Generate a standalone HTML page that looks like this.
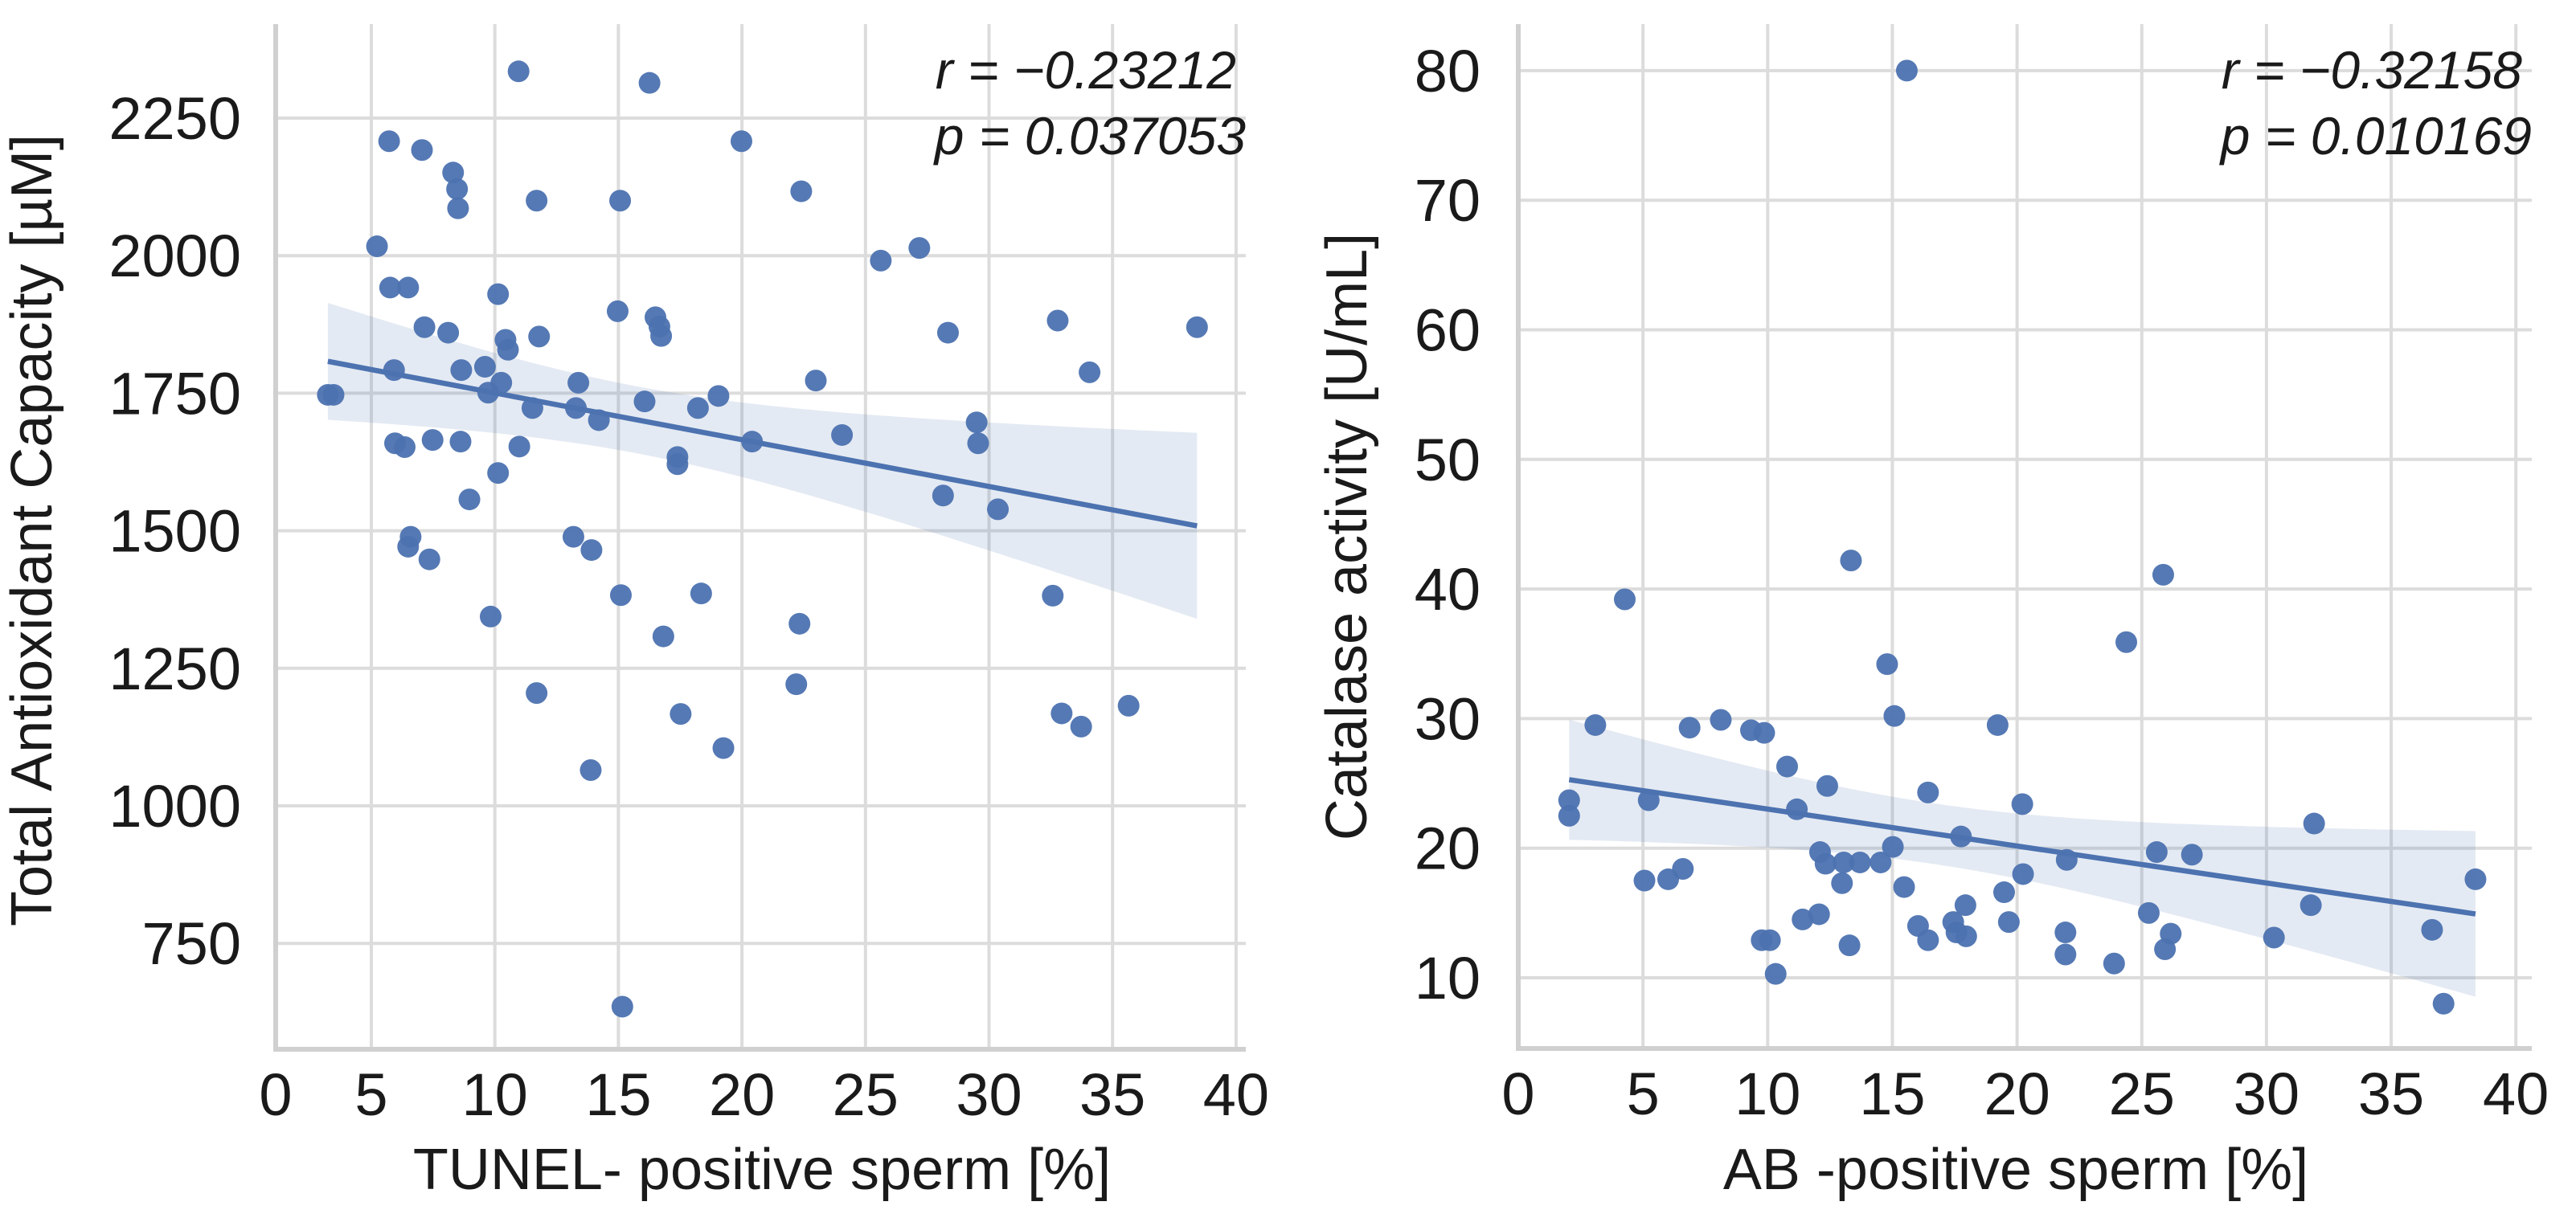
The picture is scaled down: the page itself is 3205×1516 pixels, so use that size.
<!DOCTYPE html>
<html><head><meta charset="utf-8">
<style>
html,body{margin:0;padding:0;background:#fff;}
svg{display:block;font-family:"Liberation Sans",Arial,sans-serif;}
</style></head>
<body>
<svg id="fig" width="3205" height="1516" viewBox="0 0 3205 1516" xmlns="http://www.w3.org/2000/svg">
<g id="left"></g>
<g id="right"></g>
</svg>
<script>
// ---- Left chart data ----
const leftX = [10.96,16.26,5.72,7.05,19.98,8.31,8.47,8.51,11.69,15.07,22.40,5.23,25.62,27.18,5.76,6.49,10.13,14.97,7.15,8.11,10.43,10.53,11.79,16.50,16.66,16.73,28.34,32.78,38.42,34.07,5.92,8.64,9.60,9.73,10.26,3.24,3.47,11.52,13.38,13.28,14.21,16.06,18.22,19.05,22.99,24.05,20.41,17.39,17.39,29.50,29.56,28.14,30.36,5.96,6.35,7.48,8.61,10.99,10.13,8.97,6.59,6.49,7.35,13.18,13.91,9.83,15.10,18.35,16.82,22.33,32.58,11.69,22.20,17.52,19.25,32.94,33.73,35.65,13.88,15.16];
const leftY = [2335,2314,2208,2192,2208,2151,2121,2086,2100,2100,2117,2017,1991,2014,1942,1942,1930,1899,1870,1860,1847,1829,1853,1888,1871,1854,1860,1882,1870,1788,1792,1792,1798,1751,1769,1747,1747,1723,1769,1723,1701,1735,1723,1745,1773,1674,1662,1634,1621,1697,1659,1564,1539,1659,1652,1665,1662,1653,1605,1557,1489,1471,1448,1489,1465,1344,1383,1386,1308,1331,1382,1205,1221,1167,1105,1168,1144,1182,1065,635];
const leftXTicks = [0,5,10,15,20,25,30,35,40];
const leftYTicks = [750,1000,1250,1500,1750,2000,2250];
// ---- Right chart data ----
const rightX = [15.58,13.34,25.86,4.27,24.38,14.79,15.08,3.09,6.87,8.12,9.33,9.86,19.22,10.78,12.39,16.43,2.04,2.04,5.23,11.17,20.21,31.91,12.10,12.32,13.05,13.70,14.53,15.02,12.98,17.75,21.99,25.60,27.01,38.38,5.06,6.01,6.60,15.47,19.48,20.24,17.93,31.78,25.28,11.40,12.06,16.03,17.44,17.57,17.96,19.67,21.94,26.16,36.64,16.43,9.76,10.09,13.28,30.30,21.94,25.93,23.89,10.32,37.10];
const rightY = [80.0,42.2,41.1,39.2,35.9,34.2,30.2,29.5,29.3,29.9,29.1,28.9,29.5,26.3,24.8,24.3,23.7,22.5,23.7,23.0,23.4,21.9,19.7,18.8,18.9,18.9,18.9,20.1,17.3,20.9,19.1,19.7,19.5,17.6,17.5,17.6,18.4,17.0,16.6,18.0,15.6,15.6,15.0,14.5,14.9,14.0,14.3,13.5,13.2,14.3,13.5,13.4,13.7,12.9,12.9,12.9,12.5,13.1,11.8,12.2,11.1,10.3,8.0];
const rightXTicks = [0,5,10,15,20,25,30,35,40];
const rightYTicks = [10,20,30,40,50,60,70,80];

const NS = "http://www.w3.org/2000/svg";
function mk(parent, tag, attrs, text){
  const e = document.createElementNS(NS, tag);
  for (const k in attrs) e.setAttribute(k, attrs[k]);
  if (text !== undefined) e.textContent = text;
  parent.appendChild(e);
  return e;
}

function regress(xs, ys){
  const n = xs.length;
  let mx=0,my=0; for(let i=0;i<n;i++){mx+=xs[i];my+=ys[i];} mx/=n; my/=n;
  let sxx=0,sxy=0; for(let i=0;i<n;i++){sxx+=(xs[i]-mx)**2; sxy+=(xs[i]-mx)*(ys[i]-my);}
  const b=sxy/sxx, a=my-b*mx;
  let sse=0; for(let i=0;i<n;i++){sse+=(ys[i]-a-b*xs[i])**2;}
  const s=Math.sqrt(sse/(n-2));
  return {a,b,s,mx,sxx,n};
}

function drawChart(g, cfg){
  const {xs, ys, xTicks, yTicks, xScale, yScale, left, right, top, bottom, gridRight, xTitle, yTitle, yTitleX, xTitleX, tickRight, xLabelPos, rText, pText, annX} = cfg;
  yTicks.forEach(v=>{
    const y=yScale(v);
    const l=mk(g,'line',{x1:left,x2:gridRight,y1:y,y2:y,stroke:'#dcdcdc','stroke-width':4});
    
    
    const t=mk(g,'text',{x:tickRight,y:y+26,'text-anchor':'end','font-size':74,fill:'#1a1a1a'},String(v));
    
    
  });
  xTicks.forEach(v=>{
    const x=xLabelPos(v);
    if (x > left+5){
      const l=mk(g,'line',{x1:x,x2:x,y1:top,y2:bottom,stroke:'#dcdcdc','stroke-width':4});
      
      
    }
    const t=mk(g,'text',{x:x,y:bottom+82,'text-anchor':'middle','font-size':74,fill:'#1a1a1a'},String(v));
    
    
  });
  const sp1=mk(g,'line',{x1:left,x2:left,y1:top,y2:bottom+2,stroke:'#d0d0d0','stroke-width':6});
  
  
  const sp2=mk(g,'line',{x1:left-3,x2:right,y1:bottom,y2:bottom,stroke:'#d0d0d0','stroke-width':6});
  
  
  const r=regress(xs,ys);
  const x0=Math.min(...xs), x1=Math.max(...xs);
  const N=60, upper=[], lower=[];
  for(let i=0;i<=N;i++){
    const xv=x0+(x1-x0)*i/N;
    const yv=r.a+r.b*xv;
    const se=r.s*Math.sqrt(1/r.n+(xv-r.mx)**2/r.sxx);
    upper.push([xScale(xv),yScale(yv+1.75*se)]);
    lower.push([xScale(xv),yScale(yv-1.75*se)]);
  }
  const pts=upper.concat(lower.reverse()).map(p=>p[0].toFixed(1)+','+p[1].toFixed(1)).join(' ');
  const band=mk(g,'polygon',{points:pts,fill:'#4c72b0','fill-opacity':0.15});
  
  
  xs.forEach((xv,i)=>{
    const c=mk(g,'circle',{cx:xScale(xv),cy:yScale(ys[i]),r:13.5,fill:'#4c72b0','fill-opacity':0.95});
    
    
  });
  const ln=mk(g,'line',{x1:xScale(x0),y1:yScale(r.a+r.b*x0),x2:xScale(x1),y2:yScale(r.a+r.b*x1),stroke:'#4c72b0','stroke-width':6.5});
  
  
  const xt=mk(g,'text',{x:xTitleX,y:1480,'text-anchor':'middle','font-size':72,fill:'#1a1a1a'},xTitle);
  
  
  const yt=mk(g,'text',{x:0,y:0,'text-anchor':'middle','font-size':72,fill:'#1a1a1a',transform:`translate(${yTitleX},${cfg.yTitleY}) rotate(-90)`},yTitle);
  
  
  const a1=mk(g,'text',{x:annX,y:110,'text-anchor':'end','font-size':66,'font-style':'italic',fill:'#1a1a1a'},rText);
  
  
  const a2=mk(g,'text',{x:annX+12,y:192,'text-anchor':'end','font-size':66,'font-style':'italic',fill:'#1a1a1a'},pText);
  
  
}

const lxs = v => 462 + (v-5)*30.74;
const lys = v => 147 + (2250-v)/250*171.2;
drawChart(document.getElementById('left'),{
  xs:leftX, ys:leftY, xTicks:leftXTicks, yTicks:leftYTicks,
  xScale:lxs, yScale:lys, left:343, right:1550, top:30, bottom:1306, gridRight:1550,
  xLabelPos: v => v===0 ? 343 : lxs(v),
  tickRight:300, xTitle:'TUNEL- positive sperm [%]', yTitle:'Total Antioxidant Capacity [µM]',
  yTitleX:64, yTitleY:660, xTitleX:948, rText:'r = −0.23212', pText:'p = 0.037053', annX:1538
});
const rxs = v => 1889 + v*31.03;
const rys = v => 1217 - (v-10)*16.13;
drawChart(document.getElementById('right'),{
  xs:rightX, ys:rightY, xTicks:rightXTicks, yTicks:rightYTicks,
  xScale:rxs, yScale:rys, left:1889, right:3150, top:30, bottom:1305, gridRight:3150,
  xLabelPos: v => rxs(v),
  tickRight:1842, xTitle:'AB -positive sperm [%]', yTitle:'Catalase activity [U/mL]',
  yTitleX:1700, yTitleY:668, xTitleX:2508, rText:'r = −0.32158', pText:'p = 0.010169', annX:3138
});
</script>
</body></html>
